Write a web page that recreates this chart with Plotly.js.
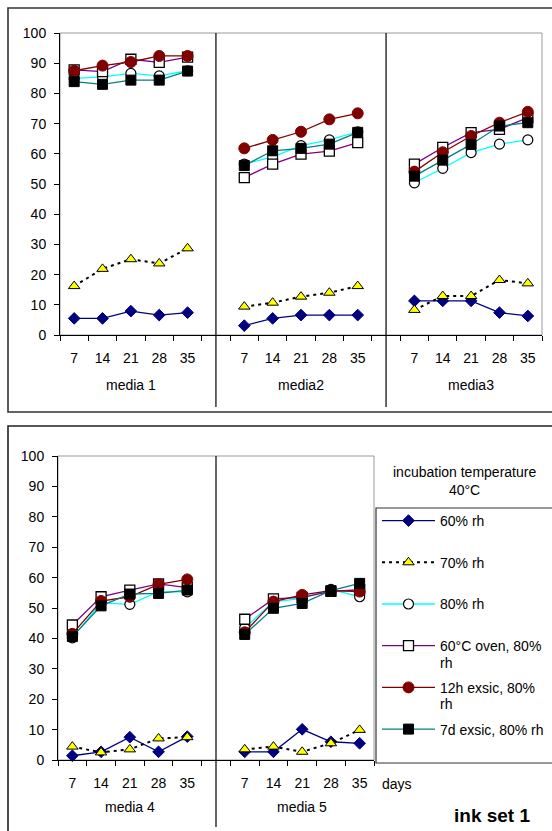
<!DOCTYPE html>
<html>
<head>
<meta charset="utf-8">
<script src="https://cdn.plot.ly/plotly-3.0.1.min.js"></script>
<style>html,body{margin:0;padding:0;background:#fff;}#chart{width:552px;height:831px;}</style>
</head>
<body>
<div id="chart"></div>
<script>
// ---- data ----
const days = ['7', '14', '21', '28', '35'];
const topMedia = ['media 1', 'media2', 'media3'];
const bottomMedia = ['media 4', 'media 5'];
const seriesNames = ['60% rh', '70% rh', '80% rh', '60°C oven, 80%', '12h exsic, 80%', '7d exsic, 80% rh'];
const nameContinuation = ['', '', '', 'rh', 'rh', ''];

// top chart (media 1, media2, media3), 5 days each
const topRh60 = [5.5, 5.5, 7.9, 6.6, 7.4, 3.1, 5.5, 6.6, 6.6, 6.6, 11.3, 11.3, 11.3, 7.4, 6.3];
const topRh70 = [16.2, 21.9, 25.1, 23.7, 28.7, 9.4, 10.7, 12.7, 14.0, 16.2, 8.3, 12.9, 12.9, 18.2, 17.1];
const topRh80 = [85.0, 85.5, 86.6, 85.8, 87.5, 56.6, 59.0, 62.7, 64.6, 67.3, 50.4, 55.2, 60.4, 63.2, 64.6];
const topOven = [87.8, 87.2, 91.3, 90.3, 92.0, 52.1, 56.6, 59.9, 60.9, 63.7, 56.6, 62.1, 67.0, 68.1, 72.0];
const top12h = [87.5, 89.2, 90.4, 92.4, 92.4, 61.8, 64.6, 67.3, 71.4, 73.4, 54.1, 60.5, 65.9, 70.3, 73.9];
const top7d = [83.9, 83.0, 84.4, 84.4, 87.4, 56.1, 61.0, 61.8, 63.2, 67.1, 52.6, 57.9, 63.1, 69.2, 70.3];

// bottom chart (media 4, media 5)
const botRh60 = [1.4, 2.7, 7.5, 2.7, 7.7, 2.7, 2.7, 10.1, 6.0, 5.5];
const botRh70 = [4.4, 2.5, 3.5, 7.1, 7.5, 3.5, 4.4, 2.7, 5.5, 9.9];
const botRh80 = [40.2, 51.7, 51.2, 55.4, 55.3, 43.5, 52.0, 53.2, 56.1, 53.7];
const botOven = [44.4, 53.7, 55.9, 57.9, 56.7, 46.3, 53.0, 53.5, 55.5, 56.0];
const bot12h = [41.5, 52.3, 53.7, 57.8, 59.4, 42.0, 52.1, 54.3, 55.7, 55.4];
const bot7d = [40.6, 50.7, 54.6, 54.8, 55.9, 41.3, 49.9, 51.5, 55.7, 58.1];

// ---- styles ----
const FONT = 'Liberation Sans, Arial, sans-serif';
const FS = 14;
const styles = [
  {line: {color: '#000080', width: 1.3}, marker: {symbol: 'diamond', size: 9, color: '#000080', line: {color: '#000080', width: 1}}},
  {line: {color: '#000000', width: 2, dash: '3px,4px'}, marker: {symbol: 'triangle-up', size: 10, color: '#FFFF00', line: {color: '#000000', width: 1}}},
  {line: {color: '#00FFFF', width: 1.3}, marker: {symbol: 'circle', size: 10, color: '#FFFFFF', line: {color: '#000000', width: 1.2}}},
  {line: {color: '#800080', width: 1.3}, marker: {symbol: 'square', size: 10, color: '#FFFFFF', line: {color: '#000000', width: 1.3}}},
  {line: {color: '#800000', width: 1.3}, marker: {symbol: 'circle', size: 11, color: '#800000', line: {color: '#800000', width: 1}}},
  {line: {color: '#008080', width: 1.3}, marker: {symbol: 'square', size: 10, color: '#000000', line: {color: '#000000', width: 1}}}
];

const G = days.length + 1; // slots per group incl. gap

function expand(vals, nGroups) {
  const x = [], y = [];
  for (let g = 0; g < nGroups; g++) {
    for (let i = 0; i < days.length; i++) {
      x.push(g * G + i);
      y.push(vals[g * days.length + i]);
    }
    if (g < nGroups - 1) { x.push(g * G + days.length); y.push(null); }
  }
  return {x, y};
}

const topSeries = [topRh60, topRh70, topRh80, topOven, top12h, top7d];
const botSeries = [botRh60, botRh70, botRh80, botOven, bot12h, bot7d];

const traces = [];
topSeries.forEach((vals, k) => {
  const d = expand(vals, topMedia.length);
  traces.push(Object.assign({type: 'scatter', mode: 'lines+markers', x: d.x, y: d.y, xaxis: 'x', yaxis: 'y',
    name: seriesNames[k], legendgroup: 'g' + k, showlegend: true, connectgaps: false, cliponaxis: false}, styles[k]));
});
botSeries.forEach((vals, k) => {
  const d = expand(vals, bottomMedia.length);
  traces.push(Object.assign({type: 'scatter', mode: 'lines+markers', x: d.x, y: d.y, xaxis: 'x2', yaxis: 'y2',
    name: seriesNames[k], legendgroup: 'g' + k, showlegend: false, connectgaps: false, cliponaxis: false}, styles[k]));
});

function labelPositions(nGroups) {
  const v = [], t = [];
  for (let g = 0; g < nGroups; g++) for (let i = 0; i < days.length; i++) { v.push(g * G + i); t.push(days[i]); }
  return {v, t};
}
function boundaries(nGroups) {
  const n = nGroups * G - 1, b = [];
  for (let i = 0; i <= n; i++) b.push(i - 0.5);
  return b;
}

const W = 552, H = 831;
const px = x => x / W;
const py = y => 1 - y / H;

function xAxis(nGroups, domain) {
  const lp = labelPositions(nGroups);
  return {
    domain: domain, range: [-0.5, nGroups * G - 1.5], tickmode: 'array', tickvals: lp.v, ticktext: lp.t,
    ticks: 'outside', ticklen: 5, tickcolor: 'rgba(0,0,0,0)', ticklabelstandoff: 5,
    minor: {tickmode: 'array', tickvals: boundaries(nGroups), ticks: 'outside', ticklen: 5, tickcolor: '#000', tickwidth: 1, showgrid: false},
    showline: true, linecolor: '#000', linewidth: 1, showgrid: false, zeroline: false, fixedrange: true,
    tickfont: {family: FONT, size: FS, color: '#000'}
  };
}
function yAxis(domain, anchor) {
  return {
    domain: domain, anchor: anchor, range: [0, 100], tickmode: 'linear', tick0: 0, dtick: 10,
    ticks: 'outside', ticklen: 5, tickcolor: '#000', tickwidth: 1, ticklabelstandoff: 5,
    showline: true, linecolor: '#000', linewidth: 1, showgrid: false, zeroline: false, fixedrange: true,
    tickfont: {family: FONT, size: FS, color: '#000'}
  };
}

const topXDomain = [px(60), px(542)], topYDomain = [py(335), py(33)];
const botXDomain = [px(58), px(374)], botYDomain = [py(760), py(456)];

const shapes = [
  // outer panel boxes
  {type: 'rect', xref: 'paper', yref: 'paper', x0: px(8), x1: 1.05, y0: py(412), y1: py(8), line: {color: '#333', width: 1.6}},
  {type: 'rect', xref: 'paper', yref: 'paper', x0: px(8), x1: 1.05, y0: -0.05, y1: py(426), line: {color: '#222', width: 1.6}},
  // plot area frames (grey)
  {type: 'rect', xref: 'x domain', yref: 'y domain', x0: 0, x1: 1, y0: 0, y1: 1, line: {color: '#999', width: 1}, layer: 'below'},
  {type: 'rect', xref: 'x2 domain', yref: 'y2 domain', x0: 0, x1: 1, y0: 0, y1: 1, line: {color: '#999', width: 1}, layer: 'below'},
  // legend box
  {type: 'rect', xref: 'paper', yref: 'paper', x0: px(376), x1: 1.05, y0: py(763), y1: py(508), line: {color: '#333', width: 1.2}, fillcolor: 'rgba(0,0,0,0)'}
];
// group separators
for (let g = 1; g < topMedia.length; g++) {
  shapes.push({type: 'line', xref: 'x', yref: 'paper', x0: g * G - 1, x1: g * G - 1, y0: py(407), y1: topYDomain[1], line: {color: '#000', width: 1.2}});
}
for (let g = 1; g < bottomMedia.length; g++) {
  shapes.push({type: 'line', xref: 'x2', yref: 'paper', x0: g * G - 1, x1: g * G - 1, y0: py(827), y1: botYDomain[1], line: {color: '#000', width: 1.2}});
}

const annotations = [];
topMedia.forEach((m, g) => annotations.push({xref: 'x', yref: 'paper', x: g * G + 2, y: py(385), text: m, showarrow: false,
  font: {family: FONT, size: FS, color: '#000'}, xanchor: 'center', yanchor: 'middle'}));
bottomMedia.forEach((m, g) => annotations.push({xref: 'x2', yref: 'paper', x: g * G + 2, y: py(807), text: m, showarrow: false,
  font: {family: FONT, size: FS, color: '#000'}, xanchor: 'center', yanchor: 'middle'}));
annotations.push({xref: 'paper', yref: 'paper', x: px(464), y: py(481), text: 'incubation temperature<br>40°C', showarrow: false,
  font: {family: FONT, size: FS, color: '#000'}, xanchor: 'center', yanchor: 'middle', align: 'center'});
annotations.push({xref: 'paper', yref: 'paper', x: px(380), y: py(784), text: 'days', showarrow: false,
  font: {family: FONT, size: FS, color: '#000'}, xanchor: 'left', yanchor: 'middle'});
annotations.push({xref: 'paper', yref: 'paper', x: px(492), y: py(815), text: '<b>ink set 1</b>', showarrow: false,
  font: {family: FONT, size: 19, color: '#000'}, xanchor: 'center', yanchor: 'middle'});
// second lines of wrapped legend names
const contY = [0, 0, 0, 663, 704, 0];
nameContinuation.forEach((t, k) => {
  if (t) annotations.push({xref: 'paper', yref: 'paper', x: px(438), y: py(contY[k]), text: t, showarrow: false,
    font: {family: FONT, size: FS, color: '#000'}, xanchor: 'left', yanchor: 'middle'});
});

const layout = {
  width: W, height: H, margin: {l: 0, r: 0, t: 0, b: 0},
  paper_bgcolor: '#fff', plot_bgcolor: '#fff',
  font: {family: FONT, size: FS, color: '#000'},
  xaxis: Object.assign(xAxis(topMedia.length, topXDomain), {anchor: 'y'}),
  yaxis: yAxis(topYDomain, 'x'),
  xaxis2: Object.assign(xAxis(bottomMedia.length, botXDomain), {anchor: 'y2'}),
  yaxis2: yAxis(botYDomain, 'x2'),
  showlegend: true,
  legend: {x: px(377), y: py(505), xanchor: 'left', yanchor: 'top', bgcolor: 'rgba(0,0,0,0)', borderwidth: 0,
    font: {family: FONT, size: FS, color: '#000'}, itemwidth: 53, tracegroupgap: 20.5, traceorder: 'grouped'},
  shapes: shapes, annotations: annotations, hovermode: false
};

Plotly.newPlot('chart', traces, layout, {staticPlot: true, displayModeBar: false});
</script>
</body>
</html>
